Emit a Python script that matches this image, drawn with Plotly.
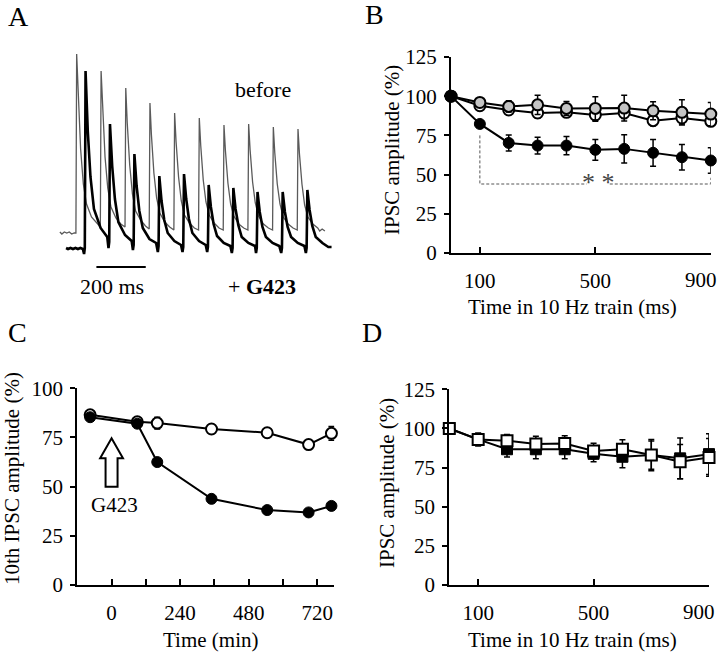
import plotly.graph_objects as go

# ---------------- Panel A: IPSC traces (time in ms, current in arbitrary units) ----------------
before_t = [-68, -60, -50, -40, -30, -20, -10, -3, 0, 6, 16, 27, 40, 60, 80,
            96, 99, 105, 115, 126, 139, 159, 179,
            196, 199, 205, 215, 226, 239, 259, 279,
            294, 297, 303, 313, 324, 337, 357, 377,
            394, 397, 403, 413, 424, 437, 457, 477,
            494, 497, 503, 513, 524, 537, 557, 577,
            594, 597, 603, 613, 624, 637, 657, 677,
            694, 697, 703, 713, 724, 737, 757, 777,
            794, 797, 803, 813, 824, 837, 857, 877,
            894, 897, 903, 913, 924, 937, 957, 977, 985, 995, 1006]
before_i = [18, 16, 18, 17, 18, 16, 17, 17, 196, 153, 101, 66, 46, 33, 27,
            23, 179, 140, 93, 62, 43, 32, 26,
            23, 162, 127, 85, 56, 39, 30, 24,
            21, 147, 115, 77, 52, 37, 28, 23,
            20, 137, 108, 73, 49, 35, 27, 22,
            20, 132, 104, 70, 48, 35, 27, 22,
            20, 125, 99, 67, 46, 34, 26, 22,
            20, 126, 100, 68, 47, 34, 26, 22,
            20, 123, 97, 66, 46, 33, 26, 22,
            20, 121, 96, 66, 45, 33, 26, 22, 19, 21, 19]

g423_t = [-43, -35, -25, -15, -5, 5, 15, 25, 30, 33, 36, 40, 45, 56, 70, 97, 124,
          129, 132, 135, 139, 144, 155, 169, 196, 223,
          228, 231, 234, 238, 243, 254, 268, 295, 322,
          329, 332, 335, 339, 344, 355, 369, 396, 423,
          429, 432, 435, 439, 444, 455, 469, 496, 523,
          529, 532, 535, 539, 544, 555, 569, 596, 623,
          629, 632, 635, 639, 644, 655, 669, 696, 723,
          727, 730, 733, 737, 742, 753, 767, 794, 821,
          829, 832, 835, 839, 844, 855, 869, 896, 923,
          929, 932, 935, 939, 944, 955, 969, 996, 1010, 1020, 1033]
g423_i = [2, 1, 2, 1, 2, 1, 2, 1, -4, 2, 179, 153, 119, 73, 41, 22, 13,
          2, 8, 126, 108, 84, 51, 28, 15, 9,
          0, 5, 96, 82, 64, 39, 22, 11, 7,
          -2, 4, 74, 63, 49, 30, 17, 9, 5,
          -2, 3, 76, 65, 51, 31, 17, 9, 5,
          -2, 3, 65, 56, 43, 26, 14, 7, 4,
          -3, 2, 62, 53, 41, 25, 13, 7, 4,
          -3, 2, 58, 50, 38, 23, 13, 7, 4,
          -3, 2, 58, 50, 38, 23, 13, 7, 4,
          -3, 2, 60, 51, 40, 24, 13, 7, 5, 3, 3]

scale_bar_ms = [80, 280]
scale_bar_level = [-17, -17]

# ---------------- Panel B ----------------
train_ms = [0, 100, 200, 300, 400, 500, 600, 700, 800, 900]
b_g423 = [100, 82.3, 70.2, 68.5, 68.5, 65.8, 66.4, 63.9, 61.1, 59.0]
b_g423_err = [0, 1, 5.1, 5.3, 5.8, 6.6, 9.0, 8.5, 8.1, 8.1]
b_grey = [100, 96.0, 93.5, 94.5, 92.2, 92.2, 92.4, 90.7, 89.7, 88.6]
b_grey_err = [0, 2, 3.6, 6.1, 4.4, 7.4, 8.2, 5.7, 8.0, 7.4]
b_open = [100, 93.9, 91.2, 89.3, 89.7, 88.0, 89.3, 84.4, 86.1, 84.0]
b_open_err = [0, 2, 2.5, 3.2, 3, 4, 3.5, 3.2, 3.8, 2.8]
b_bracket_x = [100, 100, 470, None, 550, 900, 900]
b_bracket_y = [75, 44, 44, None, 44, 44, 48]

# ---------------- Panel C ----------------
c_time = [-75, 90, 160, 350, 545, 690, 770]
c_g423 = [85.3, 82.0, 62.5, 43.8, 38.1, 36.9, 40.2]
c_g423_err = [0.5, 0.5, 0.8, 0.8, 0.8, 0.8, 0.8]
c_ctrl = [86.5, 83.0, 82.3, 79.3, 77.4, 71.4, 77.1]
c_ctrl_err = [0.5, 0.5, 3.0, 1.0, 1.0, 1.5, 3.5]
g423_time = 0
c_xtickvals = [0, 120, 240, 360, 480, 600, 720]
c_xticktext = ["0", "", "240", "", "480", "", "720"]

# ---------------- Panel D ----------------
d_filled = [100, 93.0, 86.7, 86.7, 86.7, 83.8, 81.9, 83.0, 80.9, 83.6]
d_filled_err = [0, 4, 5, 6, 6, 5, 7, 10, 13, 13]
d_open = [100, 93.0, 92.2, 90.0, 90.4, 85.6, 86.7, 83.0, 78.8, 81.5]
d_open_err = [0, 4, 4, 5, 5, 5, 6, 9, 11, 12]

train_ticks = [100, 500, 900]
train_ticktext = ["100", "500", ""]   # last label drawn separately (shifted to fit the page)
amp_ticks = [0, 25, 50, 75, 100, 125]
amp_ticks_c = [0, 25, 50, 75, 100]

FONT = "Liberation Serif"
W, H = 720, 656

fig = go.Figure()

# Panel A traces
fig.add_trace(go.Scatter(x=before_t, y=before_i, mode="lines",
                         line=dict(color="#5a5a5a", width=1.3), xaxis="x", yaxis="y"))
fig.add_trace(go.Scatter(x=g423_t, y=g423_i, mode="lines",
                         line=dict(color="black", width=2.6), xaxis="x", yaxis="y"))
fig.add_trace(go.Scatter(x=scale_bar_ms, y=scale_bar_level, mode="lines",
                         line=dict(color="black", width=2), xaxis="x", yaxis="y"))


def err(arr):
    return dict(type="data", array=arr, color="black", thickness=1.5, width=3)


# Panel B
fig.add_trace(go.Scatter(x=b_bracket_x, y=b_bracket_y, mode="lines",
                         line=dict(color="#555555", width=1, dash="3px,2px"),
                         xaxis="x2", yaxis="y2", cliponaxis=False))
fig.add_trace(go.Scatter(x=train_ms, y=b_open, mode="lines+markers", error_y=err(b_open_err),
                         line=dict(color="black", width=2),
                         marker=dict(size=11, color="white", line=dict(color="black", width=2)),
                         xaxis="x2", yaxis="y2", cliponaxis=False))
fig.add_trace(go.Scatter(x=train_ms, y=b_grey, mode="lines+markers", error_y=err(b_grey_err),
                         line=dict(color="black", width=2),
                         marker=dict(size=11, color="#c4c4c4", line=dict(color="black", width=2)),
                         xaxis="x2", yaxis="y2", cliponaxis=False))
fig.add_trace(go.Scatter(x=train_ms, y=b_g423, mode="lines+markers", error_y=err(b_g423_err),
                         line=dict(color="black", width=2),
                         marker=dict(size=11, color="black", line=dict(color="black", width=1)),
                         xaxis="x2", yaxis="y2", cliponaxis=False))

# Panel C
fig.add_trace(go.Scatter(x=c_time, y=c_ctrl, mode="lines+markers", error_y=err(c_ctrl_err),
                         line=dict(color="black", width=2),
                         marker=dict(size=11, color="white", line=dict(color="black", width=2)),
                         xaxis="x3", yaxis="y3", cliponaxis=False))
fig.add_trace(go.Scatter(x=c_time, y=c_g423, mode="lines+markers", error_y=err(c_g423_err),
                         line=dict(color="black", width=2),
                         marker=dict(size=11, color="black", line=dict(color="black", width=1)),
                         xaxis="x3", yaxis="y3", cliponaxis=False))

# Panel D
fig.add_trace(go.Scatter(x=train_ms, y=d_filled, mode="lines+markers", error_y=err(d_filled_err),
                         line=dict(color="black", width=2),
                         marker=dict(size=11, symbol="square", color="black", line=dict(color="black", width=1)),
                         xaxis="x4", yaxis="y4", cliponaxis=False))
fig.add_trace(go.Scatter(x=train_ms, y=d_open, mode="lines+markers", error_y=err(d_open_err),
                         line=dict(color="black", width=2),
                         marker=dict(size=11, symbol="square", color="white", line=dict(color="black", width=2)),
                         xaxis="x4", yaxis="y4", cliponaxis=False))


def px_x(a, b):
    return [a / W, b / W]


def px_y(top, bottom):
    return [1 - bottom / H, 1 - top / H]


tickfont = dict(family=FONT, size=21, color="black")


def xax(domain, rng, tickvals, ticktext, anchor):
    return dict(domain=domain, range=rng, showline=True, linecolor="black", linewidth=2,
                ticks="inside", ticklen=6, tickwidth=2, tickcolor="black",
                tickvals=tickvals, ticktext=ticktext, showgrid=False, zeroline=False,
                tickfont=tickfont, anchor=anchor, ticklabelstandoff=8, automargin=False)


def yax(domain, rng, tickvals, anchor):
    return dict(domain=domain, range=rng, showline=True, linecolor="black", linewidth=2,
                ticks="outside", ticklen=5, tickwidth=2, tickcolor="black",
                tickvals=tickvals, showgrid=False, zeroline=False, tickfont=tickfont,
                anchor=anchor, ticklabelstandoff=3, automargin=False)


fig.update_layout(
    width=W, height=H, margin=dict(l=0, r=0, t=0, b=0, pad=0, autoexpand=False),
    paper_bgcolor="white", plot_bgcolor="rgba(0,0,0,0)", showlegend=False,
    font=dict(family=FONT, size=21, color="black"),
    xaxis=dict(domain=px_x(55, 335), range=[-87.8, 1047], visible=False, anchor="y", automargin=False),
    yaxis=dict(domain=px_y(40, 300), range=[-50, 210], visible=False, anchor="x", automargin=False),
    xaxis2=xax(px_x(451, 710.8), [0, 900], train_ticks, train_ticktext, "y2"),
    yaxis2=yax(px_y(57, 253), [0, 125], amp_ticks, "x2"),
    xaxis3=xax(px_x(77.3, 334.3), [-120, 780], c_xtickvals, c_xticktext, "y3"),
    yaxis3=yax(px_y(388.3, 585), [0, 100], amp_ticks_c, "x3"),
    xaxis4=xax(px_x(449.3, 709), [0, 900], train_ticks, train_ticktext, "y4"),
    yaxis4=yax(px_y(389.3, 585), [0, 125], amp_ticks, "x4"),
)

# last tick labels of B and D (shifted left so they stay on the page)
for xr, yr in (("x2", "y2"), ("x4", "y4")):
    fig.add_annotation(text=str(train_ticks[-1]), x=train_ticks[-1], y=0, xref=xr, yref=yr,
                       showarrow=False, xanchor="center", yanchor="top", xshift=-10, yshift=-13,
                       font=tickfont)

# Arrow in panel C (G423 application)
fig.add_shape(type="path", xref="x3", yref="y3",
              path=(f"M {g423_time-21},50 L {g423_time+21},50 L {g423_time+21},64.4 "
                    f"L {g423_time+40},64.4 L {g423_time},74.6 L {g423_time-40},64.4 "
                    f"L {g423_time-21},64.4 Z"),
              line=dict(color="black", width=2), fillcolor="white")


def ann(text, x, y, size=21, angle=0, **kw):
    fig.add_annotation(text=text, x=x / W, y=1 - y / H, xref="paper", yref="paper",
                       showarrow=False, xanchor="center", yanchor="middle", textangle=angle,
                       font=dict(family=FONT, size=size, color="black"), **kw)


# panel letters
ann("A", 18, 16, size=28)
ann("B", 374, 15, size=28)
ann("C", 17, 333, size=28)
ann("D", 372, 332, size=28)

# panel A labels
ann("before", 263, 89, size=22)
ann("+ <b>G423</b>", 262, 286, size=22)
ann("200 ms", 112, 286, size=22)

# axis titles
ann("IPSC amplitude (%)", 392, 150, angle=-90)
ann("Time in 10 Hz train (ms)", 572, 307)
ann("10th IPSC amplitude (%)", 12, 479, angle=-90)
ann("Time (min)", 210, 640)
ann("IPSC amplitude (%)", 387, 483, angle=-90)
ann("Time in 10 Hz train (ms)", 572, 640)

# in-plot labels
fig.add_annotation(text="* *", x=510, y=45, xref="x2", yref="y2", showarrow=False,
                   font=dict(family=FONT, size=26, color="#444444"))
fig.add_annotation(text="G423", x=g423_time + 10, y=40.7, xref="x3", yref="y3", showarrow=False,
                   font=dict(family=FONT, size=21, color="black"))

fig.write_html("out.html", config={"displayModeBar": False},
               post_script="document.body.style.margin='0';document.body.style.overflow='hidden';")
